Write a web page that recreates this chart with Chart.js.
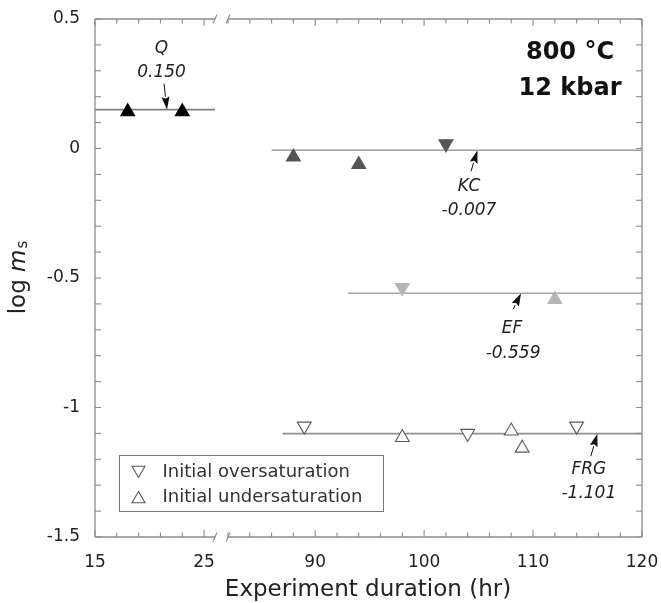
<!DOCTYPE html>
<html>
<head>
<meta charset="utf-8">
<script src="https://cdn.jsdelivr.net/npm/chart.js@4.4.1/dist/chart.umd.min.js"></script>
<style>
  html, body { margin: 0; padding: 0; background: #fff; }
  #wrap { position: relative; width: 661px; height: 603px; }
  #wrap canvas { position: absolute; left: 0; top: 0; }
</style>
</head>
<body>
<div id="wrap">
  <canvas id="leftPart" width="661" height="603"></canvas>
  <canvas id="rightPart" width="661" height="603"></canvas>
</div>
<script>
// ---- values (x = hours, y = log ms) ----
var qUpHours = [18, 23];
var qUpLogMs = [0.142, 0.142];

var kcUpHours = [88, 94];
var kcUpLogMs = [-0.033, -0.062];
var kcDownHours = [102];
var kcDownLogMs = [0.018];

var efDownHours = [98];
var efDownLogMs = [-0.537];
var efUpHours = [112];
var efUpLogMs = [-0.583];

var frgDownHours = [89, 104, 114];
var frgDownLogMs = [-1.072, -1.100, -1.072];
var frgUpHours = [98, 108, 109];
var frgUpLogMs = [-1.116, -1.091, -1.157];

// mean lines
var meanNames = ['Q', 'KC', 'EF', 'FRG'];
var meanLogMs = [0.150, -0.007, -0.559, -1.101];
var meanLabels = ['0.150', '-0.007', '-0.559', '-1.101'];
var meanFromHours = [15, 86, 93, 87];
var meanToHours = [26, 120, 120, 120];

// axes (broken x axis)
var leftHoursRange = [15, 26];
var rightHoursRange = [82, 120];
var logMsRange = [-1.5, 0.5];
var leftTicks = [15, 17, 19, 21, 23, 25];
var leftTickLabels = [15, 25];
var rightTicks = [82, 84, 86, 88, 90, 92, 94, 96, 98, 100, 102, 104, 106, 108, 110, 112, 114, 116, 118, 120];
var rightTickLabels = [90, 100, 110, 120];
var yTickLabels = [0.5, 0, -0.5, -1, -1.5];

// ---- styles ----
var FONT = '"DejaVu Sans", sans-serif';
var FRAME = '#8c8c8c';
var TEXT = '#222';
var lineColors = ['#808080', '#a0a0a0', '#a8a8a8', '#909090'];
// where each arrow points (hours on the mean line) and pixel offsets of tail / labels from the tip
var arrowHours = [21.6, 104.9, 108.9, 115.9];
var arrowTail = [[-3, -26], [-6.5, 21], [-8, 16], [-6.5, 22.5]];
var nameOffset = [[-5.5, -61], [-8.5, 36.5], [-9, 35], [-8.5, 36]];
var valueOffset = [[-5.5, -37.5], [-8.5, 60.5], [-8, 60], [-8.5, 59.5]];

Chart.defaults.font.family = FONT;
Chart.defaults.color = TEXT;

function pts(xs, ys) {
  return xs.map(function(x, i) { return {x: x, y: ys[i]}; });
}

function markers(xs, ys, fill, stroke, down) {
  return {
    data: pts(xs, ys),
    pointStyle: 'triangle',
    pointRadius: 8,
    pointRotation: down ? 180 : 0,
    backgroundColor: fill,
    borderColor: stroke,
    pointBorderWidth: 1.1,
    order: 1
  };
}

function meanLine(i) {
  return {
    data: [{x: meanFromHours[i], y: meanLogMs[i]}, {x: meanToHours[i], y: meanLogMs[i]}],
    showLine: true,
    pointRadius: 0,
    borderColor: lineColors[i],
    borderWidth: 1.6,
    order: 2
  };
}

function line(ctx, x1, y1, x2, y2) {
  ctx.beginPath();
  ctx.moveTo(x1, y1);
  ctx.lineTo(x2, y2);
  ctx.stroke();
}

function tickLabel(list) {
  return function(v) {
    for (var i = 0; i < list.length; i++) {
      if (Math.abs(list[i] - v) < 1e-6) return String(list[i]);
    }
    return '';
  };
}

function xScale(range, ticks, labels) {
  return {
    type: 'linear',
    min: range[0],
    max: range[1],
    grid: {display: false, drawTicks: false},
    border: {display: false},
    ticks: {autoSkip: false, maxRotation: 0, padding: 15, font: {size: 17}, color: TEXT, callback: tickLabel(labels)},
    afterBuildTicks: function(s) { s.ticks = ticks.map(function(v) { return {value: v}; }); },
    afterFit: function(s) { s.height = 66; s.paddingLeft = 0; s.paddingRight = 0; }
  };
}

function yScale(show) {
  return {
    type: 'linear',
    display: show,
    min: logMsRange[0],
    max: logMsRange[1],
    grid: {display: false, drawTicks: false},
    border: {display: false},
    ticks: {stepSize: 0.1, autoSkip: false, padding: 15, font: {size: 17}, color: TEXT, callback: tickLabel(yTickLabels)},
    afterFit: function(s) {
      if (show) s.width = 95;
      s.paddingTop = 0;
      s.paddingBottom = 0;
    }
  };
}

function drawFrameTicks(chart, side, labels) {
  var ctx = chart.ctx, a = chart.chartArea, xs = chart.scales.x, ys = chart.scales.y;
  ctx.save();
  ctx.strokeStyle = FRAME;
  ctx.lineWidth = 1.3;
  line(ctx, a.left, a.top, a.right, a.top);
  line(ctx, a.left, a.bottom, a.right, a.bottom);
  var edge = side === 'left' ? a.left : a.right;
  line(ctx, edge, a.top, edge, a.bottom);
  ctx.lineWidth = 1.1;
  xs.ticks.forEach(function(t) {
    var px = xs.getPixelForValue(t.value);
    var len = labels.indexOf(t.value) >= 0 ? 7 : 4.5;
    line(ctx, px, a.bottom, px, a.bottom - len);
    line(ctx, px, a.top, px, a.top + len);
  });
  ys.ticks.forEach(function(t) {
    var py = ys.getPixelForValue(t.value);
    var dir = side === 'left' ? 1 : -1;
    line(ctx, edge, py, edge + dir * 6, py);
  });
  // break marks on the open side
  var bx = side === 'left' ? a.right : a.left;
  [a.top, a.bottom].forEach(function(y) { line(ctx, bx - 2, y + 4.5, bx + 2, y - 4.5); });
  ctx.restore();
}

function drawNote(chart, i) {
  var ctx = chart.ctx;
  var tipX = chart.scales.x.getPixelForValue(arrowHours[i]);
  var tipY = chart.scales.y.getPixelForValue(meanLogMs[i]);
  var tailX = tipX + arrowTail[i][0], tailY = tipY + arrowTail[i][1];
  var ang = Math.atan2(tipY - tailY, tipX - tailX);
  var head = 13, hw = 4;
  var bx = tipX - Math.cos(ang) * head, by = tipY - Math.sin(ang) * head;
  ctx.save();
  ctx.strokeStyle = '#111';
  ctx.fillStyle = '#111';
  ctx.lineWidth = 1;
  line(ctx, tailX, tailY, bx, by);
  ctx.beginPath();
  ctx.moveTo(tipX, tipY);
  ctx.lineTo(bx + Math.sin(ang) * hw, by - Math.cos(ang) * hw);
  ctx.lineTo(bx + Math.cos(ang) * 2, by + Math.sin(ang) * 2);
  ctx.lineTo(bx - Math.sin(ang) * hw, by + Math.cos(ang) * hw);
  ctx.closePath();
  ctx.fill();
  ctx.fillStyle = TEXT;
  ctx.font = 'italic 17px ' + FONT;
  ctx.textAlign = 'center';
  ctx.textBaseline = 'middle';
  ctx.fillText(meanNames[i], tipX + nameOffset[i][0], tipY + nameOffset[i][1]);
  ctx.fillText(meanLabels[i], tipX + valueOffset[i][0], tipY + valueOffset[i][1]);
  ctx.restore();
}

var leftDecor = {
  id: 'leftDecor',
  afterDraw: function(chart) {
    drawFrameTicks(chart, 'left', leftTickLabels);
    drawNote(chart, 0);
    // y title: log m_s
    var ctx = chart.ctx;
    ctx.save();
    ctx.translate(25, 278);
    ctx.rotate(-Math.PI / 2);
    ctx.fillStyle = TEXT;
    ctx.textBaseline = 'alphabetic';
    ctx.textAlign = 'left';
    ctx.font = '23px ' + FONT;
    var w1 = ctx.measureText('log ').width;
    ctx.font = 'italic 23px ' + FONT;
    var w2 = ctx.measureText('m').width;
    ctx.font = '15px ' + FONT;
    var w3 = ctx.measureText('s').width;
    var x0 = -(w1 + w2 + w3) / 2;
    ctx.font = '23px ' + FONT;
    ctx.fillText('log ', x0, 0);
    ctx.font = 'italic 23px ' + FONT;
    ctx.fillText('m', x0 + w1, 0);
    ctx.font = '15px ' + FONT;
    ctx.fillText('s', x0 + w1 + w2 + 1, 2);
    ctx.restore();
  }
};

var rightDecor = {
  id: 'rightDecor',
  afterDraw: function(chart) {
    var ctx = chart.ctx;
    drawFrameTicks(chart, 'right', rightTickLabels);
    for (var i = 1; i < meanNames.length; i++) drawNote(chart, i);
    ctx.save();
    // conditions
    ctx.fillStyle = '#111';
    ctx.font = 'bold 24px ' + FONT;
    ctx.textAlign = 'center';
    ctx.textBaseline = 'alphabetic';
    ctx.fillText('800 \u00B0C', 570, 58.5);
    ctx.fillText('12 kbar', 570, 95);
    // x title
    ctx.fillStyle = TEXT;
    ctx.font = '23px ' + FONT;
    ctx.fillText('Experiment duration (hr)', 368, 596);
    // legend
    ctx.fillStyle = '#fff';
    ctx.fillRect(119.5, 455.5, 264, 56);
    ctx.strokeStyle = '#777';
    ctx.lineWidth = 1;
    ctx.strokeRect(119.5, 455.5, 264, 56);
    ctx.strokeStyle = '#555';
    ctx.lineWidth = 1.1;
    Chart.helpers.drawPoint(ctx, {pointStyle: 'triangle', radius: 7.5, rotation: 180, borderWidth: 1.1}, 138.5, 470);
    Chart.helpers.drawPoint(ctx, {pointStyle: 'triangle', radius: 7.5, rotation: 0, borderWidth: 1.1}, 138.5, 499);
    ctx.fillStyle = '#333';
    ctx.font = '18px ' + FONT;
    ctx.textAlign = 'left';
    ctx.textBaseline = 'middle';
    ctx.fillText('Initial oversaturation', 162.5, 472);
    ctx.fillText('Initial undersaturation', 162.5, 497.5);
    ctx.restore();
  }
};

var common = {
  responsive: false,
  animation: false,
  events: [],
  plugins: {legend: {display: false}, tooltip: {enabled: false}}
};

new Chart(document.getElementById('leftPart'), {
  type: 'scatter',
  data: {
    datasets: [
      markers(qUpHours, qUpLogMs, '#000', '#000', false),
      meanLine(0)
    ]
  },
  options: Object.assign({}, common, {
    layout: {padding: {left: 0, right: 446, top: 19, bottom: 0}},
    scales: {x: xScale(leftHoursRange, leftTicks, leftTickLabels), y: yScale(true)}
  }),
  plugins: [leftDecor]
});

new Chart(document.getElementById('rightPart'), {
  type: 'scatter',
  data: {
    datasets: [
      markers(kcUpHours, kcUpLogMs, '#555', '#555', false),
      markers(kcDownHours, kcDownLogMs, '#555', '#555', true),
      markers(efDownHours, efDownLogMs, '#b5b5b5', '#b5b5b5', true),
      markers(efUpHours, efUpLogMs, '#b5b5b5', '#b5b5b5', false),
      markers(frgDownHours, frgDownLogMs, '#fff', '#5a5a5a', true),
      markers(frgUpHours, frgUpLogMs, '#fff', '#5a5a5a', false),
      meanLine(1),
      meanLine(2),
      meanLine(3)
    ]
  },
  options: Object.assign({}, common, {
    layout: {padding: {left: 228, right: 19, top: 19, bottom: 0}},
    scales: {x: xScale(rightHoursRange, rightTicks, rightTickLabels), y: yScale(false)}
  }),
  plugins: [rightDecor]
});
</script>
</body>
</html>
